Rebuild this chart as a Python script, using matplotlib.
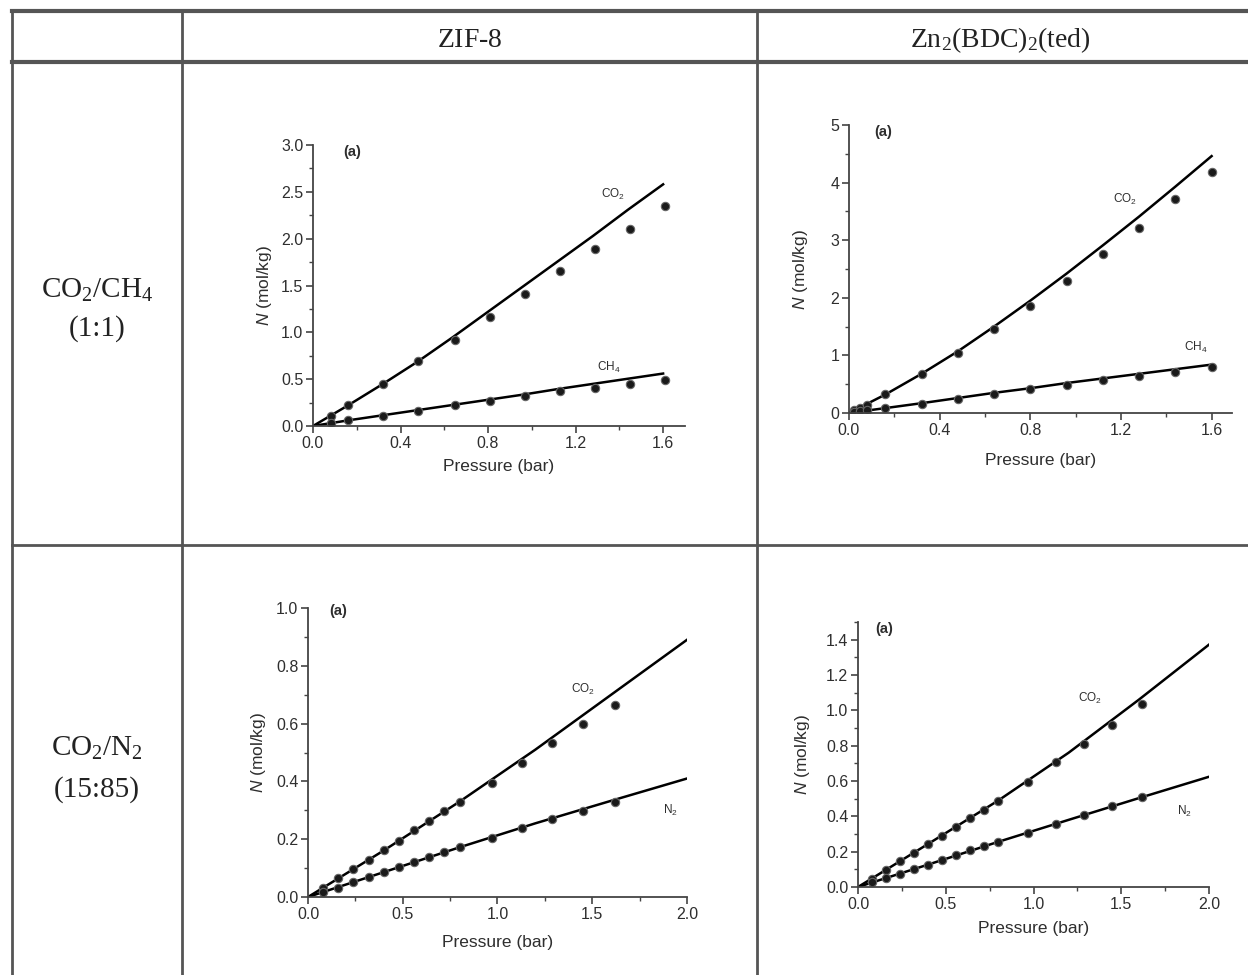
import matplotlib
matplotlib.use('Agg')
import matplotlib.pyplot as plt
from matplotlib.ticker import MultipleLocator

plt.rcParams['font.family'] = ['Liberation Sans', 'DejaVu Sans']
plt.rcParams['mathtext.fontset'] = 'custom'
plt.rcParams['mathtext.rm'] = 'Liberation Serif'
plt.rcParams['mathtext.it'] = 'Liberation Sans:italic'
plt.rcParams['mathtext.sf'] = 'Liberation Sans'

# Intestazioni della tabella
col_titles = [r'$\mathrm{ZIF\text{-}8}$', r'$\mathrm{Zn_2(BDC)_2(ted)}$']
row_titles = [[r'$\mathrm{CO_2/CH_4}$', '(1:1)'], [r'$\mathrm{CO_2/N_2}$', '(15:85)']]

# ZIF-8, CO2/CH4
p_a = [0.08, 0.16, 0.32, 0.48, 0.65, 0.81, 0.97, 1.13, 1.29, 1.45, 1.61]
co2_a = [0.11, 0.22, 0.45, 0.69, 0.92, 1.16, 1.41, 1.65, 1.89, 2.10, 2.35]
ch4_a = [0.03, 0.06, 0.11, 0.16, 0.22, 0.27, 0.32, 0.37, 0.41, 0.45, 0.49]
fit_p_a = [0.0, 0.16, 0.32, 0.48, 0.64, 0.80, 0.96, 1.12, 1.28, 1.44, 1.60]
fit_co2_a = [0.0, 0.22, 0.45, 0.69, 0.95, 1.22, 1.49, 1.76, 2.03, 2.31, 2.58]
fit_ch4_a = [0.0, 0.06, 0.115, 0.17, 0.225, 0.28, 0.335, 0.395, 0.45, 0.505, 0.56]

# Zn2(BDC)2(ted), CO2/CH4
p_b = [0.02, 0.05, 0.08, 0.16, 0.32, 0.48, 0.64, 0.80, 0.96, 1.12, 1.28, 1.44, 1.60]
co2_b = [0.05, 0.09, 0.14, 0.33, 0.67, 1.04, 1.45, 1.85, 2.29, 2.76, 3.22, 3.71, 4.19]
ch4_b = [0.01, 0.03, 0.05, 0.09, 0.16, 0.25, 0.335, 0.42, 0.49, 0.58, 0.65, 0.72, 0.79]
fit_p_b = [0.0, 0.16, 0.32, 0.48, 0.64, 0.80, 0.96, 1.12, 1.28, 1.44, 1.60]
fit_co2_b = [0.0, 0.32, 0.68, 1.07, 1.50, 1.95, 2.42, 2.91, 3.41, 3.93, 4.46]
fit_ch4_b = [0.0, 0.085, 0.17, 0.26, 0.35, 0.43, 0.52, 0.60, 0.68, 0.76, 0.84]

# ZIF-8, CO2/N2
p_c = [0.08, 0.16, 0.24, 0.32, 0.40, 0.48, 0.56, 0.64, 0.72, 0.80, 0.97, 1.13, 1.29, 1.45, 1.62]
co2_c = [0.031, 0.066, 0.097, 0.129, 0.161, 0.195, 0.231, 0.262, 0.296, 0.328,
         0.394, 0.464, 0.533, 0.600, 0.666]
n2_c = [0.017, 0.031, 0.051, 0.068, 0.085, 0.104, 0.120, 0.137, 0.155, 0.172,
        0.204, 0.238, 0.270, 0.299, 0.328]
fit_p_c = [0.0, 0.4, 0.8, 1.2, 1.6, 2.0]
fit_co2_c = [0.0, 0.161, 0.330, 0.510, 0.700, 0.890]
fit_n2_c = [0.0, 0.086, 0.172, 0.255, 0.333, 0.410]

# Zn2(BDC)2(ted), CO2/N2
p_d = [0.08, 0.16, 0.24, 0.32, 0.40, 0.48, 0.56, 0.64, 0.72, 0.80, 0.97, 1.13, 1.29, 1.45, 1.62]
co2_d = [0.043, 0.094, 0.145, 0.190, 0.244, 0.290, 0.342, 0.389, 0.436, 0.489,
         0.596, 0.705, 0.808, 0.915, 1.034]
n2_d = [0.028, 0.051, 0.075, 0.103, 0.126, 0.154, 0.179, 0.207, 0.231, 0.257,
        0.306, 0.357, 0.408, 0.457, 0.508]
fit_p_d = [0.0, 0.4, 0.8, 1.2, 1.6, 2.0]
fit_co2_d = [0.0, 0.244, 0.490, 0.760, 1.060, 1.372]
fit_n2_d = [0.0, 0.127, 0.256, 0.380, 0.503, 0.624]

fig = plt.figure(figsize=(12.48, 9.75), dpi=100)

# Tabella (coordinate in pixel della figura)
W, H = 1248, 975
bg = fig.add_axes([0, 0, 1, 1])
bg.set_xlim(0, W)
bg.set_ylim(H, 0)
bg.axis('off')
lc = '#555555'
bg.plot([12, W], [11, 11], color=lc, lw=3)
bg.plot([12, W], [62, 62], color=lc, lw=3)
bg.plot([12, W], [545, 545], color=lc, lw=2)
for x in [12, 182, 757]:
    bg.plot([x, x], [11, H], color=lc, lw=2)

tcol = '#222222'
bg.text(470, 40, col_titles[0], fontsize=20, ha='center', va='center', color=tcol)
bg.text(1000, 40, col_titles[1], fontsize=20, ha='center', va='center', color=tcol)
bg.text(97, 290, row_titles[0][0], fontsize=21, ha='center', va='center', color=tcol)
bg.text(97, 329, row_titles[0][1], fontsize=21, ha='center', va='center', color=tcol, family='Liberation Serif')
bg.text(97, 748, row_titles[1][0], fontsize=21, ha='center', va='center', color=tcol)
bg.text(97, 790, row_titles[1][1], fontsize=21, ha='center', va='center', color=tcol, family='Liberation Serif')

panels = [
    dict(rect=[313, 145, 685, 426], p=p_a, s1=co2_a, s2=ch4_a, fp=fit_p_a, f1=fit_co2_a, f2=fit_ch4_a,
         xlim=1.7, ylim=3.0, xmaj=0.4, ymaj=0.5, l2=r'$\mathsf{CH_4}$', xl=40, yl=48,
         t1=(1.37, 2.47), t2=(1.35, 0.62), ta=(0.18, 2.93)),
    dict(rect=[849, 125, 1232, 413], p=p_b, s1=co2_b, s2=ch4_b, fp=fit_p_b, f1=fit_co2_b, f2=fit_ch4_b,
         xlim=1.69, ylim=5.0, xmaj=0.4, ymaj=1.0, l2=r'$\mathsf{CH_4}$', xl=48, yl=49,
         t1=(1.22, 3.71), t2=(1.53, 1.13), ta=(0.15, 4.88)),
    dict(rect=[308, 608, 687, 897], p=p_c, s1=co2_c, s2=n2_c, fp=fit_p_c, f1=fit_co2_c, f2=fit_n2_c,
         xlim=2.0, ylim=1.0, xmaj=0.5, ymaj=0.2, l2=r'$\mathsf{N_2}$', xl=46, yl=50,
         t1=(1.45, 0.717), t2=(1.91, 0.30), ta=(0.16, 0.99)),
    dict(rect=[858, 622, 1209, 887], p=p_d, s1=co2_d, s2=n2_d, fp=fit_p_d, f1=fit_co2_d, f2=fit_n2_d,
         xlim=2.0, ylim=1.5, xmaj=0.5, ymaj=0.2, l2=r'$\mathsf{N_2}$', xl=42, yl=55,
         t1=(1.32, 1.07), t2=(1.86, 0.43), ta=(0.15, 1.46)),
]

tc = '#2e2e2e'
for pn in panels:
    x0, y0, x1, y1 = pn['rect']
    ax = fig.add_axes([x0 / W, (H - y1) / H, (x1 - x0) / W, (y1 - y0) / H])
    ax.plot(pn['fp'], pn['f1'], color='black', lw=1.8)
    ax.plot(pn['fp'], pn['f2'], color='black', lw=1.8)
    for s in (pn['s1'], pn['s2']):
        ax.plot(pn['p'], s, 'o', ms=6, mfc='#1a1a1a', mec='#666666', mew=0.8)
    ax.set_xlim(0, pn['xlim'])
    ax.set_ylim(0, pn['ylim'])
    ax.xaxis.set_major_locator(MultipleLocator(pn['xmaj']))
    ax.xaxis.set_minor_locator(MultipleLocator(pn['xmaj'] / 2))
    ax.yaxis.set_major_locator(MultipleLocator(pn['ymaj']))
    ax.yaxis.set_minor_locator(MultipleLocator(pn['ymaj'] / 2))
    if pn['ymaj'] == 1.0:
        ax.yaxis.set_major_formatter(plt.FormatStrFormatter('%d'))
    else:
        ax.yaxis.set_major_formatter(plt.FormatStrFormatter('%.1f'))
    ax.xaxis.set_major_formatter(plt.FormatStrFormatter('%.1f'))
    for side in ('top', 'right'):
        ax.spines[side].set_visible(False)
    for side in ('left', 'bottom'):
        ax.spines[side].set_color('#444444')
        ax.spines[side].set_linewidth(1.3)
    ax.tick_params(which='major', direction='out', length=5, width=1.2, colors='#444444',
                   labelcolor=tc, labelsize=11.5, pad=2)
    ax.tick_params(which='minor', direction='out', length=3, width=1.0, colors='#444444')
    ax.set_xlabel('Pressure (bar)', fontsize=12.5, color=tc)
    ax.set_ylabel(r'$\mathit{N}$ (mol/kg)', fontsize=12.5, color=tc)
    ax.xaxis.set_label_coords(0.5, -pn['xl'] / (y1 - y0))
    ax.yaxis.set_label_coords(-pn['yl'] / (x1 - x0), 0.5)
    ax.xaxis.label.set_va('center')
    ax.yaxis.label.set_va('center')
    ax.text(*pn['t1'], r'$\mathsf{CO_2}$', fontsize=8.5, color=tc, ha='center', va='center')
    ax.text(*pn['t2'], pn['l2'], fontsize=8.5, color=tc, ha='center', va='center')
    ax.text(*pn['ta'], '(a)', fontsize=10.5, fontweight='bold', color=tc, ha='center', va='center')
    ax.patch.set_alpha(0)

fig.savefig('out.png', dpi=100, facecolor='white')
